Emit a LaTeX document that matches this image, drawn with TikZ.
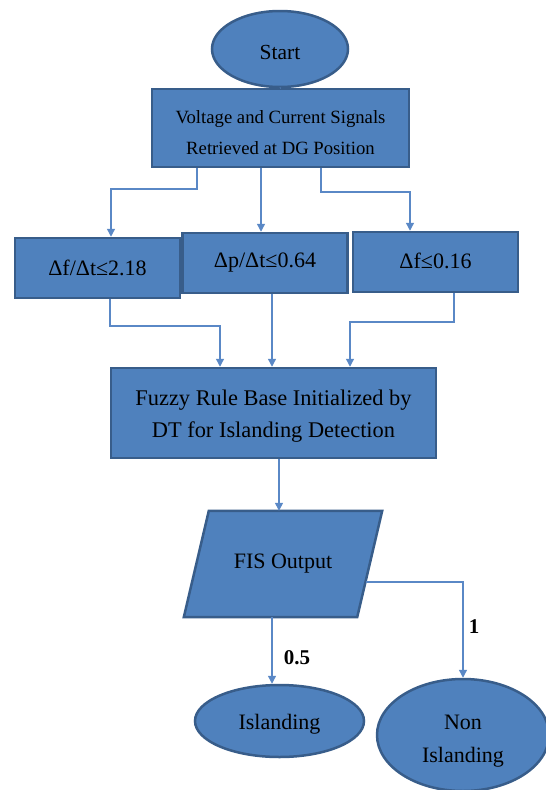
\documentclass[tikz,border=0pt]{standalone}
\usepackage{fontspec}
\setmainfont{Liberation Serif}
\newfontfamily\tnr{Liberation Serif}
\usetikzlibrary{shapes.geometric,arrows.meta,calc}
\definecolor{boxfill}{HTML}{4F81BD}
\definecolor{boxline}{HTML}{385D8A}
\definecolor{connline}{HTML}{5A88C6}
\begin{document}
\begin{tikzpicture}[x=1pt,y=-1pt,
  shapebox/.style={draw=boxline,fill=boxfill,line width=2.5pt,inner sep=0pt,text=black,align=center},
  rectbox/.style={shapebox,rectangle},
  ellbox/.style={shapebox,ellipse},
  conn/.style={draw=connline,line width=1.3pt,-{Triangle[length=8pt,width=8pt]}},
  plain/.style={draw=connline,line width=1.3pt},
  fbig/.style={font=\tnr\fontsize{22}{32}\selectfont},
  lbl/.style={font=\tnr\fontsize{21}{24}\selectfont\bfseries,text=black}]
\useasboundingbox (0,0) rectangle (546,790);
\clip (0,0) rectangle (546,790);
\fill[white] (0,0) rectangle (546,790);

\node[ellbox,minimum width=136pt,minimum height=76pt,font=\tnr\fontsize{21.5}{24}\selectfont] (start) at (280,49) {\rule{0pt}{20.5pt}Start};
\node[rectbox,minimum width=257pt,minimum height=78pt,font=\tnr\fontsize{18.7}{31}\selectfont] (volt) at (280.5,128) {\rule{0pt}{23pt}Voltage and Current Signals\\Retrieved at DG Position};

\node[rectbox,minimum width=165pt,minimum height=60pt,fbig] (fa) at (97.5,268) {Δf/Δt≤2.18};
\node[rectbox,minimum width=165pt,minimum height=60pt,fbig] (fb) at (265,263) {Δp/Δt≤0.64};
\node[rectbox,minimum width=165pt,minimum height=60pt,fbig] (fc) at (435.5,262) {\raisebox{3pt}{Δf≤0.16}};

\node[rectbox,minimum width=325pt,minimum height=90pt,font=\tnr\fontsize{22.4}{32}\selectfont] (fuzzy) at (273.5,413) {\rule{0pt}{21pt}Fuzzy Rule Base Initialized by\\DT for Islanding Detection};

% FIS parallelogram: frame node, then the shape, then the text
\node[rectangle,inner sep=0pt,minimum width=173pt,minimum height=106pt] (fis) at (283,564) {};
\draw[draw=boxline,fill=boxfill,line width=2.5pt,line join=miter]
  ([xshift=-12.5pt]fis.south west) -- ([xshift=-12.5pt]fis.south east)
  -- ([xshift=12.5pt]fis.north east) -- ([xshift=12.5pt]fis.north west) -- cycle;
\node[fbig,text=black] (fistext) at (fis.center) {FIS Output};

\node[ellbox,minimum width=169pt,minimum height=72pt,fbig] (island) at (279.5,721) {\rule{0pt}{21pt}Islanding};
\node[ellbox,minimum width=172pt,minimum height=112pt,font=\tnr\fontsize{22}{33}\selectfont] (non) at (463,735) {\rule{0pt}{27pt}Non\\Islanding};

% start to voltage
\draw[plain] (start.south) -- (volt.north);

% voltage to the three boxes
\coordinate (k1) at (197,189);
\coordinate (k2) at (111,189);
\coordinate (k3) at (261,0);
\coordinate (k4) at (321,192);
\coordinate (k5) at (410,192);
\draw[conn] (volt.south -| k1) -- (k1) -- (k2) -- (fa.north -| k2);
\draw[conn] (volt.south -| k3) -- (fb.north -| k3);
\draw[conn] (volt.south -| k4) -- (k4) -- (k5) -- (fc.north -| k5);

% three boxes to fuzzy
\coordinate (m1) at (110,326);
\coordinate (m2) at (220,326);
\coordinate (m3) at (272,0);
\coordinate (m4) at (454,322);
\coordinate (m5) at (350,322);
\draw[conn] (fa.south -| m1) -- (m1) -- (m2) -- (fuzzy.north -| m2);
\draw[conn] (fb.south -| m3) -- (fuzzy.north -| m3);
\draw[conn] (fc.south -| m4) -- (m4) -- (m5) -- (fuzzy.north -| m5);

% fuzzy to fis
\coordinate (n1) at (279,0);
\draw[conn] (fuzzy.south -| n1) -- (fis.north -| n1);

% fis to outcomes
\coordinate (p1) at (272,0);
\draw[conn] (fis.south -| p1) -- (island.north -| p1);
\coordinate (p2) at (366,582);
\draw[conn] (p2) -| (non.north);

\node[lbl] (l05) at (297,658) {0.5};
\node[lbl] (l1) at (474,627) {1};
\end{tikzpicture}
\end{document}
